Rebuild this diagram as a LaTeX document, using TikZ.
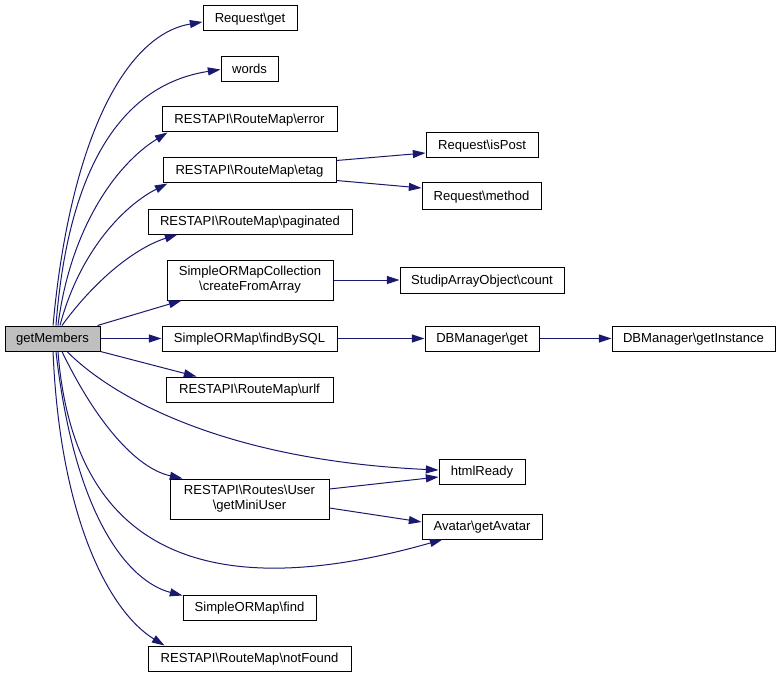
\documentclass[tikz,border=0pt]{standalone}
\usepackage{fontspec}
\setmainfont{Liberation Sans}
\usetikzlibrary{arrows.meta}
\definecolor{edgecol}{HTML}{191970}
\definecolor{gmfill}{HTML}{BFBFBF}
\newcommand\bsl{\textbackslash}
\begin{document}
\begin{tikzpicture}[x=0.75pt,y=-0.75pt,
  basebox/.style={draw=black, line width=0.75pt, fill=white, inner sep=0pt,
    font=\fontsize{9.8}{11.25}\selectfont},
  box/.style={basebox, text height=8pt, text depth=1.5pt},
  two/.style={basebox, align=center},
  wh/.style 2 args={minimum width=#1*0.75pt, minimum height=#2*0.75pt},
  call/.style={draw=edgecol, line width=0.75pt, -{Triangle[length=9.5pt,width=6pt]}}]
\useasboundingbox (0,0) rectangle (780,677);
\fill[white] (0,0) rectangle (780,677);
% nodes
\node[box, wh={95}{25}, fill=gmfill] (gm) at (52.5,338.5) {getMembers};
\node[box, wh={94}{25}] (rget) at (250,18.5) {Request\bsl get};
\node[box, wh={57}{25}] (words) at (249.5,69.5) {words};
\node[box, wh={175}{25}] (error) at (249.5,119.5) {RESTAPI\bsl RouteMap\bsl error};
\node[box, wh={173}{25}] (etag) at (249.5,170.5) {RESTAPI\bsl RouteMap\bsl etag};
\node[box, wh={204}{25}] (pag) at (250,221.5) {RESTAPI\bsl RouteMap\bsl paginated};
\node[two, wh={166}{40}] (coll) at (250,280) {SimpleORMapCollection\\\bsl createFromArray};
\node[box, wh={175}{25}] (fbs) at (249.5,338.5) {SimpleORMap\bsl findBySQL};
\node[box, wh={167}{25}] (urlf) at (249.5,389.5) {RESTAPI\bsl RouteMap\bsl urlf};
\node[two, wh={159}{40}] (gmu) at (249.5,499) {RESTAPI\bsl Routes\bsl User\\\bsl getMiniUser};
\node[box, wh={133}{25}] (find) at (249.5,607.5) {SimpleORMap\bsl find};
\node[box, wh={203}{25}] (nf) at (249.5,658.5) {RESTAPI\bsl RouteMap\bsl notFound};
\node[box, wh={112}{25}] (ispost) at (482,145.5) {Request\bsl isPost};
\node[box, wh={119}{26}] (method) at (481.5,196) {Request\bsl method};
\node[box, wh={164}{26}] (cnt) at (482,280) {StudipArrayObject\bsl count};
\node[box, wh={114}{25}] (dbget) at (482,338.5) {DBManager\bsl get};
\node[box, wh={163}{25}] (inst) at (693.5,338.5) {DBManager\bsl getInstance};
\node[box, wh={86}{25}] (html) at (482,471.5) {htmlReady};
\node[box, wh={120}{25}] (avatar) at (482,526.5) {Avatar\bsl getAvatar};
% edges from getMembers
\draw[call] ([xshift=0.4pt]gm.north) .. controls (70,140) and (125,35) .. ([yshift=-2.6pt]rget.west);
\draw[call] ([xshift=2.6pt]gm.north) .. controls (68,170) and (120,85) .. (words.west);
\draw[call] ([xshift=4.1pt]gm.north) .. controls (70,230) and (115,165) .. ([xshift=4.5pt]error.south west);
\draw[call] ([xshift=5.6pt]gm.north) .. controls (80,250) and (125,205) .. ([xshift=3.75pt]etag.south west);
\draw[call] ([xshift=7.1pt]gm.north) .. controls (95,280) and (135,248) .. ([xshift=22.5pt]pag.south west);
\draw[call] ([xshift=-2.25pt]gm.north east) -- ([xshift=11.25pt]coll.south west);
\draw[call] (gm.east) -- (fbs.west);
\draw[call] (gm.south east) -- ([xshift=23.25pt]urlf.north west);
\draw[call] ([xshift=10.9pt]gm.south) .. controls (110,395) and (220,460) .. ([yshift=1.1pt]html.west);
\draw[call] ([xshift=7.1pt]gm.south) .. controls (95,420) and (135,468) .. ([xshift=9.75pt]gmu.north west);
\draw[call] ([xshift=4.1pt]gm.south) .. controls (75,570) and (230,600) .. ([xshift=15.75pt]avatar.south west);
\draw[call] ([xshift=2.6pt]gm.south) .. controls (75,520) and (130,582) .. ([yshift=-0.75pt]find.north west);
\draw[call] ([xshift=0.4pt]gm.south) .. controls (60,520) and (110,612) .. ([xshift=12.75pt]nf.north west);
% other edges
\draw[call] ([yshift=-2.25pt]etag.north east) -- ([yshift=-5.6pt]ispost.west);
\draw[call] ([yshift=2.25pt]etag.south east) -- ([yshift=6pt]method.west);
\draw[call] (coll.east) -- (cnt.west);
\draw[call] (fbs.east) -- (dbget.west);
\draw[call] (dbget.east) -- (inst.west);
\draw[call] ([yshift=7.5pt]gmu.east) -- ([yshift=-4.1pt]html.west);
\draw[call] ([yshift=-6.75pt]gmu.east) -- ([yshift=3.4pt]avatar.west);
\end{tikzpicture}
\end{document}
